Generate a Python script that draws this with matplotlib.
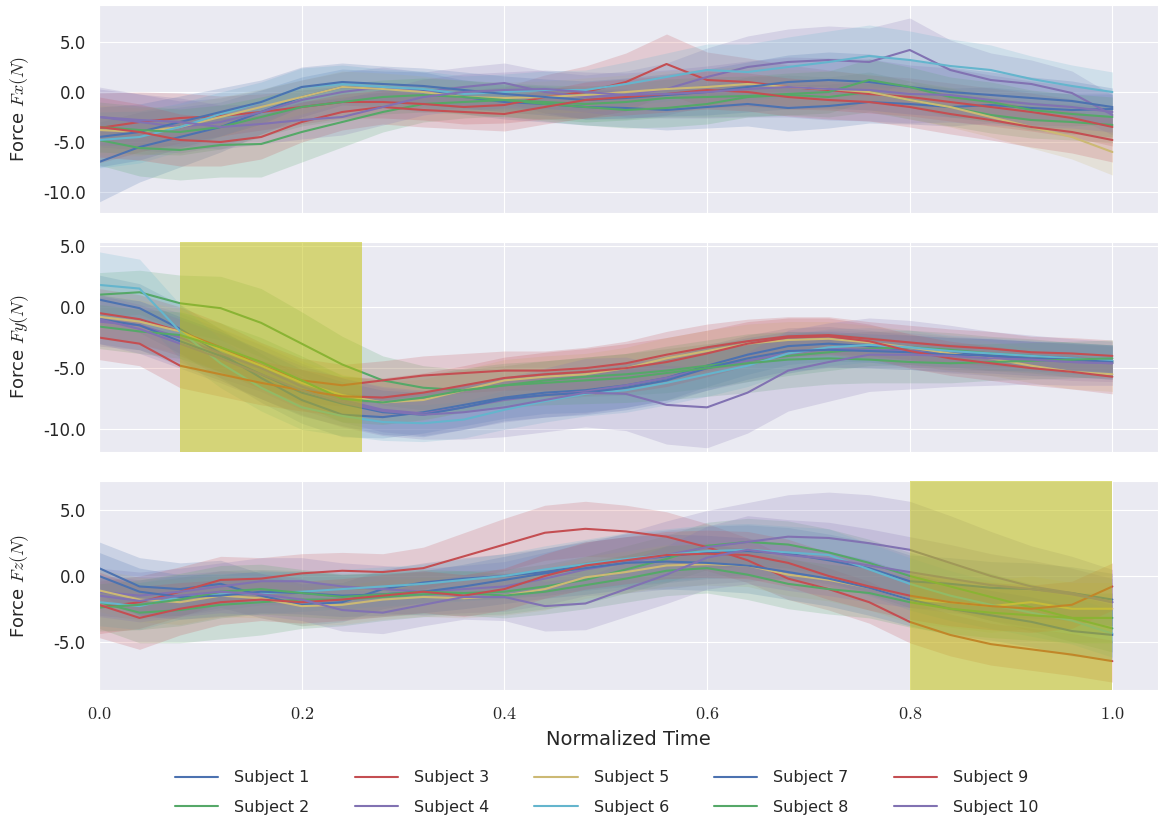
import numpy as np
import matplotlib
matplotlib.use("Agg")
import matplotlib.pyplot as plt
import seaborn as sns

sns.set_style("darkgrid")
plt.rcParams["font.family"] = ["DejaVu Sans"]
plt.rcParams["mathtext.fontset"] = "cm"

# normalized time grid (step 0.04)
t = np.linspace(0.0, 1.0, 26)

subjects = ["Subject %d" % i for i in range(1, 11)]
palette = ["#4C72B0", "#55A868", "#C44E52", "#8172B2", "#CCB974", "#64B5CD"]

# mean force per subject, Fx
fx_mean = [
    [-7.0, -5.5, -4.5, -3.5, -2.0, -0.5, 0.5, 0.3, 0.2, -0.5, -1.0, -1.2, -1.5, -1.6, -1.8, -1.5, -1.2, -1.6, -1.4, -1.0, -1.2, -1.5, -1.3, -1.6, -1.8, -1.7],
    [-4.8, -5.6, -5.8, -5.3, -5.2, -4.0, -3.0, -2.0, -1.2, -1.0, -0.8, -1.2, -1.5, -1.8, -1.6, -1.2, -0.5, -0.3, -0.5, 0.0, -0.8, -1.5, -2.3, -2.8, -3.0, -3.3],
    [-3.6, -3.0, -2.6, -2.4, -2.0, -1.5, -1.0, -1.0, -1.2, -1.5, -1.3, -0.5, 0.0, 1.0, 2.8, 1.2, 1.0, 0.5, 0.2, -0.2, -0.5, -1.0, -1.5, -2.0, -2.6, -3.5],
    [-2.5, -3.0, -3.5, -3.0, -2.0, -0.8, 0.0, 0.5, 0.0, 0.5, 0.9, 0.0, -0.5, -0.3, 0.3, 1.5, 2.5, 3.0, 3.2, 3.0, 4.2, 2.2, 1.2, 0.8, -0.1, -2.3],
    [-3.8, -4.0, -3.5, -2.5, -1.5, -0.5, 0.5, 0.3, 0.0, -0.5, -0.6, -0.5, -0.3, 0.0, 0.3, 0.5, 0.8, 0.5, 0.3, 0.0, -0.8, -1.5, -2.5, -3.5, -4.5, -6.0],
    [-4.8, -4.5, -3.5, -2.2, -1.0, 0.5, 0.8, 0.5, 0.3, -0.2, 0.0, 0.2, 0.2, 0.8, 1.5, 2.2, 2.0, 2.5, 3.0, 3.6, 3.2, 2.6, 2.2, 1.3, 0.6, 0.0],
    [-4.5, -4.0, -3.0, -2.0, -1.0, 0.5, 1.0, 0.8, 0.6, 0.2, -0.2, -0.5, -0.8, -0.6, -0.3, 0.0, 0.5, 1.0, 1.2, 1.0, 0.5, 0.0, -0.3, -0.6, -0.9, -1.5],
    [-3.5, -3.8, -4.0, -3.5, -2.5, -1.5, -1.0, -0.5, -0.3, -0.5, -0.8, -1.0, -1.2, -1.0, -0.6, -0.5, -0.4, -0.2, 0.0, 1.2, 0.5, -0.5, -1.0, -1.8, -2.2, -2.5],
    [-3.5, -4.0, -4.8, -5.0, -4.5, -3.0, -2.0, -1.5, -1.8, -2.0, -2.2, -1.5, -0.8, -0.5, -0.2, 0.2, 0.0, -0.5, -0.8, -1.0, -1.5, -2.2, -2.8, -3.5, -4.0, -4.8],
    [-2.5, -2.8, -3.0, -3.5, -3.2, -2.8, -2.5, -1.5, -0.5, 0.0, 0.2, 0.3, 0.0, -0.3, -0.2, 0.0, 0.3, 0.5, 0.3, 0.2, -0.2, -0.3, -0.8, -1.2, -1.5, -2.0],
]
fx_sd = [
    [4.0, 3.5, 3.0, 2.5, 2.2, 2.0, 1.8, 1.8, 1.8, 1.7, 1.7, 1.8, 1.8, 1.9, 2.0, 2.1, 2.2, 2.3, 2.2, 2.1, 2.0, 1.9, 1.8, 1.7, 1.6, 1.5],
    [2.5, 2.8, 3.0, 3.2, 3.3, 3.0, 2.5, 2.0, 1.8, 1.6, 1.6, 1.7, 1.8, 1.8, 1.9, 2.0, 2.0, 2.0, 2.0, 2.0, 1.9, 1.9, 1.8, 1.8, 1.8, 1.8],
    [3.5, 3.0, 2.5, 2.0, 1.8, 1.7, 1.6, 1.6, 1.6, 1.7, 1.8, 2.2, 2.6, 2.9, 3.0, 2.8, 2.4, 2.2, 2.0, 1.9, 1.9, 1.9, 1.9, 1.9, 1.9, 1.9],
    [3.0, 2.8, 2.6, 2.4, 2.2, 2.0, 2.0, 2.0, 2.0, 2.0, 2.0, 2.1, 2.2, 2.4, 2.6, 2.9, 3.1, 3.3, 3.4, 3.4, 3.2, 3.0, 2.7, 2.4, 2.2, 2.0],
    [2.5, 2.4, 2.2, 2.0, 1.8, 1.7, 1.6, 1.6, 1.6, 1.6, 1.6, 1.6, 1.7, 1.7, 1.8, 1.8, 1.8, 1.8, 1.8, 1.8, 1.9, 2.0, 2.0, 2.1, 2.2, 2.3],
    [2.8, 2.6, 2.4, 2.2, 2.0, 1.9, 1.9, 1.8, 1.8, 1.8, 1.8, 1.9, 2.0, 2.2, 2.4, 2.6, 2.8, 3.0, 3.1, 3.1, 2.9, 2.7, 2.5, 2.3, 2.1, 2.0],
    [3.0, 2.8, 2.6, 2.4, 2.2, 2.0, 1.9, 1.8, 1.8, 1.8, 1.8, 1.8, 1.9, 2.0, 2.1, 2.3, 2.5, 2.7, 2.8, 2.8, 2.7, 2.5, 2.3, 2.1, 2.0, 1.9],
    [2.5, 2.4, 2.3, 2.2, 2.0, 1.9, 1.8, 1.7, 1.7, 1.7, 1.7, 1.7, 1.8, 1.8, 1.9, 2.0, 2.0, 2.1, 2.1, 2.1, 2.0, 2.0, 2.0, 2.0, 2.0, 2.0],
    [3.0, 2.8, 2.6, 2.4, 2.2, 2.0, 1.8, 1.7, 1.7, 1.7, 1.7, 1.7, 1.8, 1.8, 1.8, 1.9, 1.9, 1.9, 1.9, 1.9, 2.0, 2.0, 2.0, 2.0, 2.1, 2.2],
    [2.8, 2.6, 2.4, 2.2, 2.0, 1.9, 1.8, 1.8, 1.8, 1.8, 1.8, 1.9, 2.0, 2.2, 2.4, 2.6, 2.8, 3.0, 3.1, 3.1, 2.9, 2.7, 2.5, 2.3, 2.1, 2.0],
]

# mean force per subject, Fy
fy_mean = [
    [0.6, -0.1, -1.8, -3.8, -5.8, -7.6, -8.8, -9.0, -8.6, -8.0, -7.4, -7.0, -6.8, -6.4, -5.8, -4.8, -3.9, -3.2, -3.0, -3.2, -3.6, -3.8, -3.9, -4.0, -4.2, -4.4],
    [1.0, 1.2, 0.3, -0.1, -1.3, -3.0, -4.7, -6.0, -6.6, -6.8, -6.4, -6.0, -5.7, -5.5, -5.2, -4.8, -4.4, -4.0, -3.7, -3.4, -3.3, -3.5, -3.8, -4.0, -4.3, -4.5],
    [-0.5, -1.0, -2.0, -3.3, -4.8, -6.0, -6.4, -6.0, -5.6, -5.4, -5.2, -5.2, -5.0, -4.6, -3.9, -3.3, -2.8, -2.4, -2.3, -2.6, -2.9, -3.2, -3.4, -3.7, -3.8, -4.0],
    [-1.2, -1.5, -2.5, -3.8, -5.0, -6.5, -7.6, -8.4, -8.7, -8.2, -7.6, -7.2, -6.9, -6.4, -5.8, -5.0, -4.4, -3.8, -3.4, -3.5, -3.6, -3.9, -4.1, -4.3, -4.5, -4.6],
    [-0.8, -1.2, -2.0, -3.5, -4.8, -6.2, -7.2, -7.8, -7.6, -6.8, -6.0, -5.7, -5.5, -5.0, -4.2, -3.6, -3.0, -2.7, -2.6, -2.9, -3.3, -3.8, -4.2, -4.8, -5.3, -5.5],
    [1.8, 1.5, -2.0, -4.6, -6.6, -8.2, -8.9, -9.4, -9.5, -9.2, -8.4, -7.7, -7.1, -6.8, -6.2, -5.5, -4.8, -3.8, -3.3, -3.1, -3.3, -3.6, -3.8, -4.0, -4.2, -4.4],
    [-1.0, -1.5, -2.8, -4.0, -5.5, -7.0, -7.9, -8.6, -8.8, -8.2, -7.5, -7.2, -7.0, -6.6, -6.0, -5.0, -4.2, -3.6, -3.5, -3.6, -3.7, -3.9, -4.0, -4.2, -4.3, -4.5],
    [-1.6, -2.0, -2.3, -3.3, -4.5, -6.0, -7.5, -7.8, -7.4, -6.8, -6.4, -6.2, -6.0, -5.8, -5.4, -5.0, -4.6, -4.3, -4.2, -4.3, -4.5, -4.6, -4.5, -4.4, -4.3, -4.2],
    [-2.5, -3.0, -4.8, -5.5, -6.2, -6.8, -7.3, -7.4, -7.0, -6.4, -5.8, -5.5, -5.3, -5.0, -4.5, -3.8, -3.0, -2.5, -2.4, -2.8, -3.6, -4.2, -4.6, -5.0, -5.3, -5.7],
    [-1.0, -1.8, -3.0, -4.2, -5.5, -6.8, -7.8, -8.5, -8.8, -8.6, -8.2, -7.6, -7.0, -7.1, -8.0, -8.2, -7.0, -5.2, -4.5, -3.9, -3.9, -4.0, -4.2, -4.3, -4.5, -4.6],
]
fy_sd = [
    [2.0, 2.0, 2.0, 2.0, 2.0, 1.9, 1.8, 1.7, 1.7, 1.7, 1.7, 1.7, 1.8, 1.8, 1.8, 1.7, 1.6, 1.5, 1.4, 1.3, 1.3, 1.3, 1.3, 1.2, 1.2, 1.2],
    [1.8, 1.8, 2.3, 2.6, 2.8, 2.6, 2.3, 2.0, 1.8, 1.7, 1.6, 1.6, 1.6, 1.7, 1.8, 1.8, 1.7, 1.6, 1.5, 1.4, 1.4, 1.4, 1.4, 1.4, 1.4, 1.4],
    [2.0, 2.0, 2.0, 2.0, 1.9, 1.8, 1.7, 1.6, 1.6, 1.6, 1.6, 1.6, 1.7, 1.8, 1.9, 1.9, 1.8, 1.6, 1.5, 1.4, 1.4, 1.4, 1.4, 1.3, 1.3, 1.3],
    [2.0, 2.0, 2.0, 2.0, 1.9, 1.9, 1.8, 1.8, 1.8, 1.8, 1.8, 1.8, 1.8, 1.8, 1.8, 1.8, 1.7, 1.6, 1.5, 1.5, 1.5, 1.5, 1.5, 1.5, 1.5, 1.5],
    [1.8, 1.8, 1.8, 1.8, 1.8, 1.8, 1.7, 1.7, 1.7, 1.7, 1.7, 1.7, 1.7, 1.7, 1.7, 1.7, 1.6, 1.5, 1.4, 1.4, 1.4, 1.4, 1.4, 1.4, 1.4, 1.4],
    [2.7, 2.4, 2.2, 2.0, 1.9, 1.8, 1.6, 1.5, 1.5, 1.5, 1.6, 1.7, 1.8, 1.8, 1.8, 1.8, 1.7, 1.6, 1.5, 1.4, 1.4, 1.3, 1.3, 1.3, 1.3, 1.3],
    [2.0, 2.0, 2.0, 2.0, 2.0, 1.9, 1.8, 1.8, 1.8, 1.8, 1.8, 1.8, 1.8, 1.8, 1.8, 1.8, 1.7, 1.6, 1.5, 1.4, 1.4, 1.4, 1.4, 1.4, 1.4, 1.4],
    [1.8, 1.8, 1.9, 2.0, 2.0, 2.0, 1.9, 1.8, 1.8, 1.8, 1.8, 1.8, 1.9, 2.0, 2.2, 2.3, 2.4, 2.3, 2.1, 1.9, 1.7, 1.6, 1.5, 1.5, 1.5, 1.5],
    [1.8, 1.8, 1.8, 1.8, 1.8, 1.7, 1.6, 1.6, 1.6, 1.6, 1.7, 1.8, 1.9, 2.0, 2.0, 1.9, 1.8, 1.6, 1.5, 1.4, 1.4, 1.4, 1.4, 1.4, 1.4, 1.4],
    [2.0, 2.0, 2.0, 2.0, 2.0, 2.0, 2.0, 2.0, 2.0, 2.2, 2.4, 2.6, 2.8, 3.0, 3.2, 3.3, 3.3, 3.3, 3.2, 3.0, 2.8, 2.5, 2.2, 2.0, 1.9, 1.8],
]

# mean force per subject, Fz
fz_mean = [
    [0.6, -0.8, -1.0, -0.6, -1.5, -2.2, -2.0, -1.0, -0.5, -0.2, 0.0, 0.3, 0.8, 1.2, 1.5, 1.8, 1.9, 1.7, 1.2, 0.6, -0.4, -0.6, -0.9, -1.0, -1.3, -1.8],
    [-2.0, -2.8, -2.6, -2.2, -2.0, -1.8, -1.8, -1.6, -1.4, -1.3, -1.2, -0.8, -0.3, 0.5, 1.3, 2.3, 2.6, 2.4, 1.8, 1.0, 0.0, -0.8, -1.6, -2.4, -3.2, -4.0],
    [-2.4, -2.0, -1.2, -0.3, -0.2, 0.2, 0.4, 0.3, 0.6, 1.5, 2.4, 3.3, 3.6, 3.4, 3.0, 2.2, 1.2, -0.2, -1.0, -2.0, -3.5, -4.5, -5.2, -5.6, -6.0, -6.5],
    [-1.2, -1.5, -1.2, -0.8, -0.4, -0.4, -0.8, -1.0, -1.2, -1.0, -0.8, -0.2, 0.5, 1.0, 1.6, 2.2, 2.6, 3.0, 2.9, 2.5, 2.0, 1.0, 0.0, -0.8, -1.3, -2.0],
    [-1.1, -1.8, -2.0, -1.5, -1.7, -2.3, -2.2, -1.8, -1.6, -1.7, -1.5, -1.0, -0.1, 0.3, 0.8, 0.9, 0.8, 0.1, -0.3, -0.9, -1.8, -2.0, -2.3, -2.0, -2.5, -2.5],
    [-2.0, -2.3, -1.6, -1.4, -1.3, -1.2, -1.0, -0.8, -0.6, -0.3, 0.0, 0.5, 0.9, 1.3, 1.6, 1.9, 2.0, 1.8, 1.6, 0.5, -0.6, -1.5, -2.2, -2.8, -3.4, -4.4],
    [0.0, -1.2, -1.6, -1.5, -1.2, -1.3, -1.5, -1.4, -1.2, -0.8, -0.3, 0.2, 0.6, 1.0, 1.1, 1.0, 0.8, 0.3, -0.2, -0.9, -1.8, -2.5, -3.0, -3.5, -4.2, -4.5],
    [-2.4, -2.2, -1.8, -1.2, -1.0, -1.3, -1.6, -1.4, -1.2, -1.3, -1.5, -1.2, -0.7, -0.2, 0.4, 0.6, 0.1, -0.6, -1.0, -1.3, -2.0, -2.5, -2.8, -3.0, -3.2, -3.2],
    [-2.2, -3.2, -2.5, -2.0, -1.8, -2.0, -1.8, -1.5, -1.2, -1.5, -1.0, 0.0, 0.8, 1.2, 1.6, 1.7, 1.6, 1.0, 0.0, -0.8, -1.5, -2.0, -2.3, -2.5, -2.2, -0.8],
    [-1.5, -1.9, -1.5, -1.2, -1.4, -1.8, -2.6, -2.8, -2.2, -1.6, -1.6, -2.3, -2.1, -1.0, 0.1, 1.4, 2.0, 1.6, 1.3, 0.8, 0.3, -0.2, -0.7, -1.0, -1.4, -2.0],
]
fz_sd = [
    [2.0, 2.2, 2.0, 1.8, 1.7, 1.6, 1.5, 1.5, 1.5, 1.6, 1.7, 1.8, 1.9, 2.0, 2.0, 2.0, 2.0, 2.0, 2.0, 2.0, 2.0, 2.0, 2.0, 2.0, 2.0, 2.0],
    [2.0, 2.3, 2.5, 2.6, 2.5, 2.2, 2.0, 1.8, 1.7, 1.7, 1.7, 1.7, 1.8, 1.8, 1.8, 1.8, 1.8, 1.8, 1.8, 1.8, 1.8, 1.8, 1.8, 1.8, 1.8, 1.8],
    [2.0, 2.0, 1.9, 1.8, 1.6, 1.5, 1.4, 1.4, 1.6, 1.8, 2.0, 2.1, 2.1, 2.0, 1.9, 1.8, 1.7, 1.6, 1.6, 1.6, 1.6, 1.6, 1.6, 1.6, 1.6, 1.6],
    [1.8, 1.8, 1.8, 1.8, 1.8, 1.8, 1.8, 1.8, 1.8, 1.8, 1.9, 2.0, 2.0, 2.3, 2.6, 2.8, 3.0, 3.2, 3.5, 3.7, 3.7, 3.6, 3.4, 3.1, 2.8, 2.5],
    [1.6, 1.7, 1.7, 1.6, 1.5, 1.5, 1.5, 1.5, 1.5, 1.5, 1.5, 1.6, 1.6, 1.6, 1.6, 1.6, 1.6, 1.6, 1.6, 1.7, 1.8, 1.9, 2.0, 2.0, 2.0, 2.0],
    [1.8, 1.8, 1.7, 1.6, 1.6, 1.5, 1.5, 1.5, 1.5, 1.6, 1.7, 1.8, 1.9, 2.0, 2.0, 2.0, 2.0, 2.0, 2.0, 2.0, 2.0, 1.9, 1.8, 1.8, 1.8, 1.8],
    [1.8, 1.8, 1.7, 1.6, 1.6, 1.6, 1.6, 1.6, 1.6, 1.7, 1.8, 1.9, 2.0, 2.0, 2.1, 2.1, 2.1, 2.1, 2.1, 2.1, 2.0, 2.0, 1.9, 1.9, 1.9, 1.9],
    [1.8, 1.9, 2.0, 2.0, 1.9, 1.8, 1.7, 1.7, 1.7, 1.7, 1.7, 1.7, 1.8, 1.8, 1.9, 1.9, 1.9, 1.9, 1.9, 1.9, 1.9, 1.9, 1.9, 1.9, 1.9, 1.9],
    [2.5, 2.4, 2.0, 1.7, 1.6, 1.6, 1.6, 1.6, 1.6, 1.6, 1.6, 1.7, 1.8, 1.8, 1.8, 1.8, 1.8, 1.8, 1.8, 1.8, 1.8, 1.8, 1.8, 1.8, 1.8, 1.8],
    [1.6, 1.6, 1.6, 1.6, 1.6, 1.6, 1.6, 1.6, 1.6, 1.7, 1.8, 1.9, 2.0, 2.1, 2.2, 2.4, 2.6, 2.7, 2.8, 2.8, 2.7, 2.6, 2.4, 2.2, 2.0, 1.8],
]

panels = [
    ("Force $Fx(N)$", fx_mean, fx_sd, (-12.1, 8.7), [5, 0, -5, -10], None),
    ("Force $Fy(N)$", fy_mean, fy_sd, (-11.85, 5.3), [5, 0, -5, -10], (0.08, 0.26)),
    ("Force $Fz(N)$", fz_mean, fz_sd, (-8.7, 7.25), [5, 0, -5], (0.8, 1.0)),
]
xticks = [0.0, 0.2, 0.4, 0.6, 0.8, 1.0]

fig = plt.figure(figsize=(11.58, 8.18), dpi=100)
boxes = [
    [0.0855, 0.7396, 0.9145, 0.2543],
    [0.0855, 0.4474, 0.9145, 0.2567],
    [0.0855, 0.1565, 0.9145, 0.2555],
]

handles = []
for k, (ylabel, means, sds, ylim, yticks, span) in enumerate(panels):
    ax = fig.add_axes(boxes[k])
    for i in range(10):
        c = palette[i % 6]
        m = np.array(means[i])
        s = np.array(sds[i])
        ax.fill_between(t, m - s, m + s, color=c, alpha=0.2, linewidth=0)
        line, = ax.plot(t, m, color=c, lw=1.5, label=subjects[i])
        if k == 0:
            handles.append(line)
    # highlighted phase
    if span is not None:
        ax.axvspan(span[0], span[1], color="y", alpha=0.5, lw=0, zorder=5)
    ax.set_xlim(0, 1.045)
    ax.set_ylim(*ylim)
    ax.set_yticks(yticks)
    ax.set_yticklabels(["%.1f" % v for v in yticks], fontsize=12)
    ax.tick_params(axis="y", pad=6)
    ax.set_xticks(xticks)
    if k == 2:
        ax.set_xticklabels(["$%.1f$" % v for v in xticks], fontsize=13)
        ax.tick_params(axis="x", pad=7)
        ax.set_xlabel("Normalized Time", fontsize=14, labelpad=5)
    else:
        ax.set_xticklabels([])
    ax.set_ylabel(ylabel, fontsize=13)
    ax.yaxis.set_label_coords(-0.064, 0.5)

fig.legend(handles, subjects, loc="center", bbox_to_anchor=(0.524, 0.031),
           ncol=5, frameon=False, fontsize=11.5, handlelength=2.7,
           handletextpad=1.0, columnspacing=2.85, labelspacing=0.9)

fig.savefig("out.png", dpi=100)
